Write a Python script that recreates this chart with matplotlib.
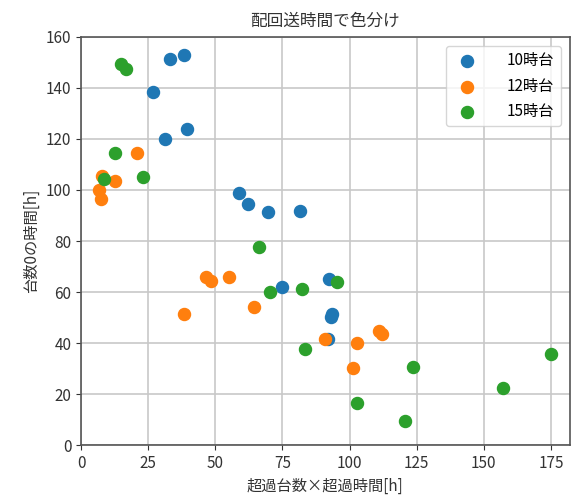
import numpy as np
import matplotlib.pyplot as plt

plt.rcParams['font.family'] = ['Noto Sans CJK JP', 'DejaVu Sans']

# 10時台
x10 = [33.0, 38.5, 26.9, 31.1, 39.6, 58.8, 62.1, 69.8, 81.6, 74.9, 92.2, 93.1, 93.5, 91.8]
y10 = [151.5, 152.7, 138.2, 119.9, 123.9, 98.9, 94.5, 91.2, 91.8, 61.8, 65.1, 50.3, 51.3, 41.6]
# 12時台
x12 = [7.9, 12.6, 6.8, 7.4, 21.0, 46.7, 48.3, 55.1, 38.2, 64.4, 91.0, 102.7, 101.4, 111.0, 112.0]
y12 = [105.6, 103.5, 100.0, 96.3, 114.6, 65.8, 64.4, 65.8, 51.4, 54.0, 41.6, 40.1, 30.3, 44.7, 43.5]
# 15時台
x15 = [14.9, 16.8, 12.6, 8.7, 23.1, 66.1, 70.4, 82.3, 95.3, 83.4, 102.7, 120.8, 123.8, 157.0, 175.0]
y15 = [149.3, 147.3, 114.6, 104.2, 105.1, 77.5, 59.9, 61.2, 63.8, 37.6, 16.7, 9.4, 30.5, 22.5, 35.7]

labels = ['10時台', '12時台', '15時台']

fig, ax = plt.subplots(figsize=(5.79, 4.98), dpi=100)
fig.subplots_adjust(left=0.14, right=0.984, top=0.926, bottom=0.106)

for xs, ys, lab in zip([x10, x12, x15], [y10, y12, y15], labels):
    ax.scatter(xs, ys, s=75, label=lab, zorder=3)

ax.set_xlim(0, 182)
ax.set_ylim(0, 160)
ax.set_xticks(np.arange(0, 176, 25))
ax.set_yticks(np.arange(0, 161, 20))
ax.grid(True, color='#c8c8c8', linewidth=1.2)
ax.set_axisbelow(True)
ax.tick_params(labelsize=11, colors='#333333')
for sp in ax.spines.values():
    sp.set_color('#555555')
    sp.set_linewidth(1.2)

ax.set_title('配回送時間で色分け', fontsize=12, color='#333333', pad=8)
ax.set_xlabel('超過台数×超過時間[h]', fontsize=11, color='#333333')
ax.set_ylabel('台数0の時間[h]', fontsize=11, color='#333333')
ax.legend(loc='upper right', fontsize=11, handletextpad=1.6,
          labelspacing=0.55, borderaxespad=0.6)

plt.savefig('out.png', dpi=100)
